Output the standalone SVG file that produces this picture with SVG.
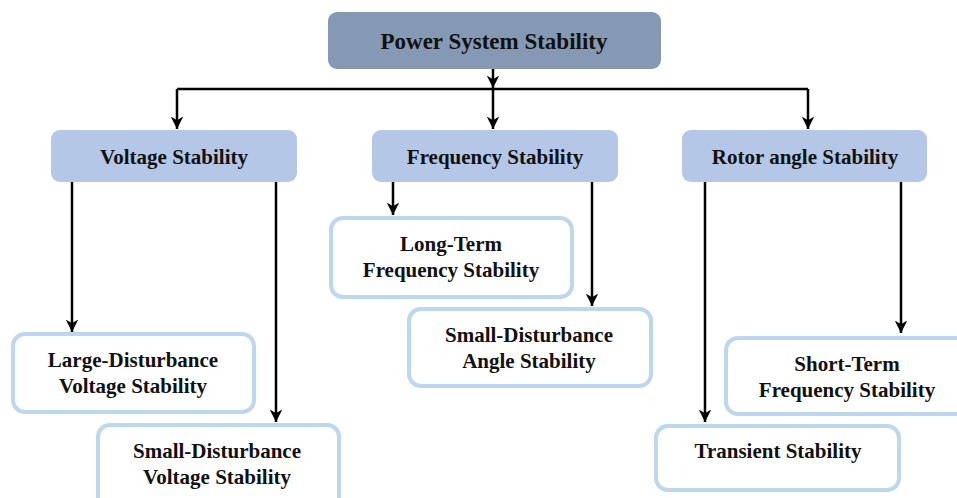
<svg xmlns="http://www.w3.org/2000/svg" width="957" height="498" viewBox="0 0 957 498">
<defs>
<marker id="ah" viewBox="0 0 10 10" refX="10" refY="5" markerWidth="5" markerHeight="5" orient="auto" markerUnits="strokeWidth">
<path d="M0,0 L10,5 L0,10 L3,5 z" fill="#000"/>
</marker>
<style>
.root{fill:#8599b4;}
.mid{fill:#b4c7e7;}
.leaf{fill:#fff;stroke:#bdd7ee;stroke-width:4;}
text{font-family:"Liberation Serif","Times New Roman",serif;font-weight:bold;fill:#111;text-anchor:middle;font-size:21px;}
.conn path{fill:none;stroke:#000;stroke-width:2.5;}
.arr{marker-end:url(#ah);}
</style>
</defs>
<g class="conn">
<path class="arr" d="M493,68 V88"/>
<path d="M177,89 H808"/>
<path class="arr" d="M177,89 V129"/>
<path class="arr" d="M493,89 V129"/>
<path class="arr" d="M808,89 V129"/>
<path class="arr" d="M72,182 V332"/>
<path class="arr" d="M276,182 V422"/>
<path class="arr" d="M393,182 V215"/>
<path class="arr" d="M592,182 V306"/>
<path class="arr" d="M705,182 V422"/>
<path class="arr" d="M901,182 V333"/>
</g>
<g id="power"><rect class="root" x="328" y="12" width="333" height="57" rx="9"/><text x="494" y="49" style="font-size:23px">Power System Stability</text></g>
<g id="voltage"><rect class="mid" x="51" y="130" width="246" height="52" rx="9"/><text x="174" y="164">Voltage Stability</text></g>
<g id="frequency"><rect class="mid" x="372" y="130" width="246" height="52" rx="9"/><text x="495" y="164">Frequency Stability</text></g>
<g id="rotor"><rect class="mid" x="682" y="130" width="245" height="52" rx="9"/><text x="805" y="164">Rotor angle Stability</text></g>
<g id="longterm"><rect class="leaf" x="331" y="218" width="241" height="79" rx="12"/><text x="451" y="251">Long-Term</text><text x="451" y="277">Frequency Stability</text></g>
<g id="smallangle"><rect class="leaf" x="409" y="309" width="242" height="77" rx="12"/><text x="529" y="342">Small-Disturbance</text><text x="529" y="368">Angle Stability</text></g>
<g id="largevoltage"><rect class="leaf" x="13" y="334" width="241" height="78" rx="12"/><text x="133" y="367">Large-Disturbance</text><text x="133" y="393">Voltage Stability</text></g>
<g id="smallvoltage"><rect class="leaf" x="98" y="425" width="241" height="85" rx="12"/><text x="217" y="458">Small-Disturbance</text><text x="217" y="484">Voltage Stability</text></g>
<g id="shortterm"><rect class="leaf" x="726" y="338" width="250" height="76" rx="12"/><text x="847" y="371">Short-Term</text><text x="847" y="397">Frequency Stability</text></g>
<g id="transient"><rect class="leaf" x="656" y="426" width="243" height="64" rx="12"/><text x="778" y="458">Transient Stability</text></g>
</svg>
